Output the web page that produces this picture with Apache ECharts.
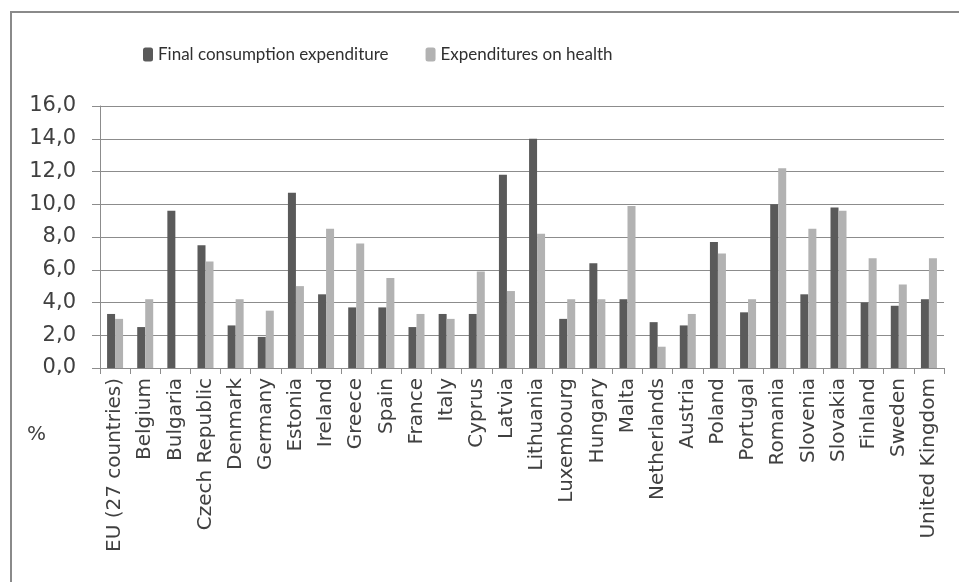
<!DOCTYPE html>
<html><head><meta charset="utf-8">
<script src="https://cdn.jsdelivr.net/npm/echarts@6/dist/echarts.min.js"></script>
<style>html,body{margin:0;padding:0;background:#fff}#c{width:959px;height:582px}</style>
</head><body><div id="c"></div>
<script>
const categories = ["EU (27 countries)","Belgium","Bulgaria","Czech Republic","Denmark","Germany","Estonia","Ireland","Greece","Spain","France","Italy","Cyprus","Latvia","Lithuania","Luxembourg","Hungary","Malta","Netherlands","Austria","Poland","Portugal","Romania","Slovenia","Slovakia","Finland","Sweden","United Kingdom"];
const finalConsumption = [3.3,2.5,9.6,7.5,2.6,1.9,10.7,4.5,3.7,3.7,2.5,3.3,3.3,11.8,14.0,3.0,6.4,4.2,2.8,2.6,7.7,3.4,10.0,4.5,9.8,4.0,3.8,4.2];
const healthExpenditure = [3.0,4.2,0,6.5,4.2,3.5,5.0,8.5,7.6,5.5,3.3,3.0,5.9,4.7,8.2,4.2,4.2,9.9,1.3,3.3,7.0,4.2,12.2,8.5,9.6,6.7,5.1,6.7];
const seriesNames = ["Final consumption expenditure","Expenditures on health"];
const yTicks = {min:0, max:16, interval:2};

const chart = echarts.init(document.getElementById('c'));
chart.setOption({
  animation:false,
  backgroundColor:'#fff',
  graphic:[
    {type:'rect', shape:{x:11,y:12,width:980,height:600}, style:{fill:'none', stroke:'#8a8a8a', lineWidth:2}},
    {type:'text', left:27, top:425, style:{text:'%', font:'20px "DejaVu Sans"', fill:'#404040'}}
  ],
  legend:{
    top:41, left:138, itemWidth:10, itemHeight:14, itemGap:37,
    textStyle:{fontFamily:'Lato', fontSize:17, color:'#303030'},
    data:seriesNames
  },
  grid:{left:100, right:15, top:106, bottom:214, containLabel:false},
  xAxis:{
    type:'category', data:categories,
    axisLine:{lineStyle:{color:'#8c8c8c', width:1}},
    axisTick:{show:true, length:6, lineStyle:{color:'#8c8c8c'}},
    axisLabel:{rotate:90, margin:10, interval:0, fontFamily:'DejaVu Sans', fontSize:20, color:'#404040'}
  },
  yAxis:{
    type:'value', min:yTicks.min, max:yTicks.max, interval:yTicks.interval,
    axisLine:{show:true, lineStyle:{color:'#8c8c8c'}},
    axisTick:{show:true, length:8, lineStyle:{color:'#8c8c8c'}},
    splitLine:{lineStyle:{color:'#8c8c8c', width:1}},
    axisLabel:{margin:24, fontFamily:'DejaVu Sans', fontSize:21, color:'#404040',
      formatter:v=>v.toFixed(1).replace('.',',')}
  },
  series:[
    {name:seriesNames[0], type:'bar', data:finalConsumption, barWidth:8, barGap:'0%', itemStyle:{color:'#5a5a5a'}},
    {name:seriesNames[1], type:'bar', data:healthExpenditure, barWidth:8, barGap:'0%', itemStyle:{color:'#b2b2b2'}}
  ]
});
</script></body></html>
